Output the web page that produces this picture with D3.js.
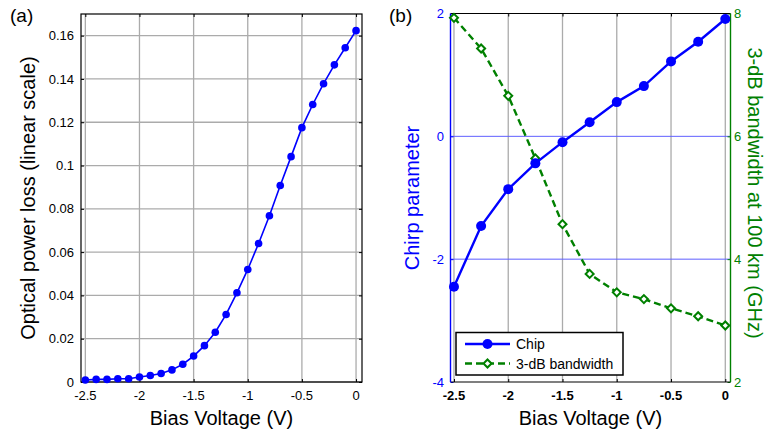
<!DOCTYPE html>
<html>
<head>
<meta charset="utf-8">
<script src="https://cdn.jsdelivr.net/npm/d3@7"></script>
<style>
  body { margin: 0; background: #fff; }
  svg text { font-family: "Liberation Sans", Arial, sans-serif; }
</style>
</head>
<body>
<svg id="chart" width="766" height="431"></svg>
<script>
// panel (a) data
var biasA = [-2.5, -2.4, -2.3, -2.2, -2.1, -2.0, -1.9, -1.8, -1.7, -1.6, -1.5, -1.4, -1.3,
             -1.2, -1.1, -1.0, -0.9, -0.8, -0.7, -0.6, -0.5, -0.4, -0.3, -0.2, -0.1, 0];
var lossA = [0.0009, 0.0012, 0.0012, 0.0015, 0.0015, 0.0023, 0.003, 0.0039, 0.0056, 0.0082, 0.012, 0.0168, 0.023,
             0.0312, 0.0412, 0.052, 0.064, 0.0768, 0.0908, 0.1041, 0.1175, 0.1282, 0.1378, 0.1465, 0.1544, 0.1623];
var xTicksA = [-2.5, -2, -1.5, -1, -0.5, 0];
var xTickLabelsA = ["-2.5", "-2", "-1.5", "-1", "-0.5", "0"];
var yTicksA = [0, 0.02, 0.04, 0.06, 0.08, 0.1, 0.12, 0.14, 0.16];
var yTickLabelsA = ["0", "0.02", "0.04", "0.06", "0.08", "0.1", "0.12", "0.14", "0.16"];

// panel (b) data
var biasB = [-2.5, -2.25, -2.0, -1.75, -1.5, -1.25, -1.0, -0.75, -0.5, -0.25, 0];
var chirp = [-2.45, -1.46, -0.86, -0.44, -0.095, 0.23, 0.557, 0.818, 1.22, 1.54, 1.91];
var bandwidth = [7.93, 7.43, 6.66, 5.64, 4.57, 3.76, 3.46, 3.35, 3.20, 3.07, 2.92];
var yTicksL = [-4, -2, 0, 2];
var yTicksR = [2, 4, 6, 8];
var legendLabels = ["Chip", "3-dB bandwidth"];

var svg = d3.select("#chart");
var blue = "#0000ff", green = "#008000", gridGray = "#ababab";

// ---------------- panel (a) ----------------
var boxA = {l: 81, r: 362, t: 14, b: 382};
var xA = d3.scaleLinear().domain([-2.54, 0.055]).range([boxA.l, boxA.r]);
var yA = d3.scaleLinear().domain([0, 0.17]).range([boxA.b, boxA.t]);

var gA = svg.append("g");

// grid
gA.append("g").selectAll("line").data(xTicksA).join("line")
    .attr("x1", d => xA(d)).attr("x2", d => xA(d))
    .attr("y1", boxA.t).attr("y2", boxA.b)
    .attr("stroke", gridGray).attr("stroke-width", 1.3);
gA.append("g").selectAll("line").data(yTicksA).join("line")
    .attr("x1", boxA.l).attr("x2", boxA.r)
    .attr("y1", d => yA(d)).attr("y2", d => yA(d))
    .attr("stroke", gridGray).attr("stroke-width", 1.3);

// axes with inward ticks
var axisA = function (g, axis, tr) {
    g.append("g").attr("transform", tr).call(axis)
        .call(s => s.select(".domain").remove())
        .call(s => s.selectAll("text").remove())
        .call(s => s.selectAll("line").attr("stroke", "#000"));
};
axisA(gA, d3.axisBottom(xA).tickValues(xTicksA).tickSize(-3), "translate(0," + boxA.b + ")");
axisA(gA, d3.axisTop(xA).tickValues(xTicksA).tickSize(-3), "translate(0," + boxA.t + ")");
axisA(gA, d3.axisLeft(yA).tickValues(yTicksA).tickSize(-3), "translate(" + boxA.l + ",0)");
axisA(gA, d3.axisRight(yA).tickValues(yTicksA).tickSize(-3), "translate(" + boxA.r + ",0)");

gA.append("rect")
    .attr("x", boxA.l).attr("y", boxA.t)
    .attr("width", boxA.r - boxA.l).attr("height", boxA.b - boxA.t)
    .attr("fill", "none").attr("stroke", "#000").attr("stroke-width", 1.2);

// tick labels
gA.append("g").selectAll("text").data(xTicksA).join("text")
    .attr("x", d => xA(d)).attr("y", 400)
    .attr("text-anchor", "middle").attr("font-size", 13)
    .text((d, i) => xTickLabelsA[i]);
gA.append("g").selectAll("text").data(yTicksA).join("text")
    .attr("x", 74).attr("y", d => yA(d) + 4.6)
    .attr("text-anchor", "end").attr("font-size", 13)
    .text((d, i) => yTickLabelsA[i]);

// data
var dataA = biasA.map((v, i) => [v, lossA[i]]);
gA.append("path").datum(dataA)
    .attr("fill", "none").attr("stroke", blue).attr("stroke-width", 1.6)
    .attr("d", d3.line().x(d => xA(d[0])).y(d => yA(d[1])));
gA.append("g").selectAll("circle").data(dataA).join("circle")
    .attr("cx", d => xA(d[0])).attr("cy", d => yA(d[1]))
    .attr("r", 3.8).attr("fill", blue);

// labels
gA.append("text").attr("x", 221.5).attr("y", 425)
    .attr("text-anchor", "middle").attr("font-size", 20)
    .text("Bias Voltage (V)");
gA.append("text").attr("transform", "translate(35,198) rotate(-90)")
    .attr("text-anchor", "middle").attr("font-size", 20)
    .text("Optical power loss (linear scale)");
gA.append("text").attr("x", 10).attr("y", 22).attr("font-size", 19).text("(a)");

// ---------------- panel (b) ----------------
var boxB = {l: 450.5, r: 730.5, t: 13.5, b: 382};
var xB = d3.scaleLinear().domain([-2.532, 0.048]).range([boxB.l, boxB.r]);
var yL = d3.scaleLinear().domain([-4, 2]).range([boxB.b, boxB.t]);
var yR = d3.scaleLinear().domain([2, 8]).range([boxB.b, boxB.t]);

var gB = svg.append("g");

gB.append("g").selectAll("line").data(xTicksA).join("line")
    .attr("x1", d => xB(d)).attr("x2", d => xB(d))
    .attr("y1", boxB.t).attr("y2", boxB.b)
    .attr("stroke", gridGray).attr("stroke-width", 1.3);
gB.append("g").selectAll("line").data(yTicksL.slice(1, 3)).join("line")
    .attr("x1", boxB.l).attr("x2", boxB.r)
    .attr("y1", d => yL(d)).attr("y2", d => yL(d))
    .attr("stroke", "#5f5fff").attr("stroke-width", 1);

var axisB = function (g, axis, tr, col) {
    g.append("g").attr("transform", tr).call(axis)
        .call(s => s.select(".domain").remove())
        .call(s => s.selectAll("text").remove())
        .call(s => s.selectAll("line").attr("stroke", col));
};
axisB(gB, d3.axisBottom(xB).tickValues(xTicksA).tickSize(-3), "translate(0," + boxB.b + ")", "#000");
axisB(gB, d3.axisTop(xB).tickValues(xTicksA).tickSize(-3), "translate(0," + boxB.t + ")", "#000");
axisB(gB, d3.axisLeft(yL).tickValues(yTicksL).tickSize(-3), "translate(" + boxB.l + ",0)", blue);
axisB(gB, d3.axisRight(yR).tickValues(yTicksR).tickSize(-3), "translate(" + boxB.r + ",0)", green);

// box edges
gB.append("line").attr("x1", boxB.l).attr("x2", boxB.r).attr("y1", boxB.t).attr("y2", boxB.t)
    .attr("stroke", "#000").attr("stroke-width", 1.2);
gB.append("line").attr("x1", boxB.l).attr("x2", boxB.r).attr("y1", boxB.b).attr("y2", boxB.b)
    .attr("stroke", "#000").attr("stroke-width", 1.2);
gB.append("line").attr("x1", boxB.l).attr("x2", boxB.l).attr("y1", boxB.t).attr("y2", boxB.b)
    .attr("stroke", blue).attr("stroke-width", 1.4);
gB.append("line").attr("x1", boxB.r).attr("x2", boxB.r).attr("y1", boxB.t).attr("y2", boxB.b)
    .attr("stroke", green).attr("stroke-width", 1.4);

// tick labels
gB.append("g").selectAll("text").data(xTicksA).join("text")
    .attr("x", d => xB(d)).attr("y", 400)
    .attr("text-anchor", "middle").attr("font-size", 13).attr("font-weight", "bold")
    .text((d, i) => xTickLabelsA[i]);
gB.append("g").selectAll("text").data(yTicksL).join("text")
    .attr("x", 444).attr("y", d => yL(d) + 4.6)
    .attr("text-anchor", "end").attr("font-size", 13).attr("fill", blue)
    .text(d => d);
gB.append("g").selectAll("text").data(yTicksR).join("text")
    .attr("x", 734).attr("y", d => yR(d) + 4.6)
    .attr("text-anchor", "start").attr("font-size", 13).attr("fill", green)
    .text(d => d);

// series
var dataChirp = biasB.map((v, i) => [v, chirp[i]]);
var dataBw = biasB.map((v, i) => [v, bandwidth[i]]);

gB.append("path").datum(dataBw)
    .attr("fill", "none").attr("stroke", green).attr("stroke-width", 2.4)
    .attr("stroke-dasharray", "7,4")
    .attr("d", d3.line().x(d => xB(d[0])).y(d => yR(d[1])));
var diamond = d3.symbol().type(d3.symbolSquare).size(32);
gB.append("g").selectAll("path").data(dataBw).join("path")
    .attr("d", diamond)
    .attr("transform", d => "translate(" + xB(d[0]) + "," + yR(d[1]) + ") rotate(45)")
    .attr("fill", "#fff").attr("stroke", green).attr("stroke-width", 2);

gB.append("path").datum(dataChirp)
    .attr("fill", "none").attr("stroke", blue).attr("stroke-width", 2.4)
    .attr("d", d3.line().x(d => xB(d[0])).y(d => yL(d[1])));
gB.append("g").selectAll("circle").data(dataChirp).join("circle")
    .attr("cx", d => xB(d[0])).attr("cy", d => yL(d[1]))
    .attr("r", 5).attr("fill", blue);

// legend
var leg = gB.append("g").attr("transform", "translate(456,332.5)");
leg.append("rect").attr("width", 167).attr("height", 42.5)
    .attr("fill", "#fff").attr("stroke", "#000").attr("stroke-width", 1.5);
leg.append("line").attr("x1", 9).attr("x2", 54).attr("y1", 11.5).attr("y2", 11.5)
    .attr("stroke", blue).attr("stroke-width", 2.4);
leg.append("circle").attr("cx", 31.5).attr("cy", 11.5).attr("r", 5).attr("fill", blue);
leg.append("line").attr("x1", 9).attr("x2", 54).attr("y1", 31).attr("y2", 31)
    .attr("stroke", green).attr("stroke-width", 2.4).attr("stroke-dasharray", "7,4");
leg.append("path").attr("d", diamond)
    .attr("transform", "translate(31.5,31) rotate(45)")
    .attr("fill", "#fff").attr("stroke", green).attr("stroke-width", 2);
leg.selectAll("text.lbl").data(legendLabels).join("text")
    .attr("class", "lbl")
    .attr("x", 60).attr("y", (d, i) => 16.5 + i * 19.5)
    .attr("font-size", 14)
    .text(d => d);

// axis labels
gB.append("text").attr("x", 590.5).attr("y", 425)
    .attr("text-anchor", "middle").attr("font-size", 20)
    .text("Bias Voltage (V)");
gB.append("text").attr("transform", "translate(419,198) rotate(-90)")
    .attr("text-anchor", "middle").attr("font-size", 20).attr("fill", blue)
    .text("Chirp parameter");
gB.append("text").attr("transform", "translate(748,193) rotate(90)")
    .attr("text-anchor", "middle").attr("font-size", 20).attr("fill", green)
    .text("3-dB bandwidth at 100 km (GHz)");
gB.append("text").attr("x", 389).attr("y", 22).attr("font-size", 19).text("(b)");
</script>
</body>
</html>
